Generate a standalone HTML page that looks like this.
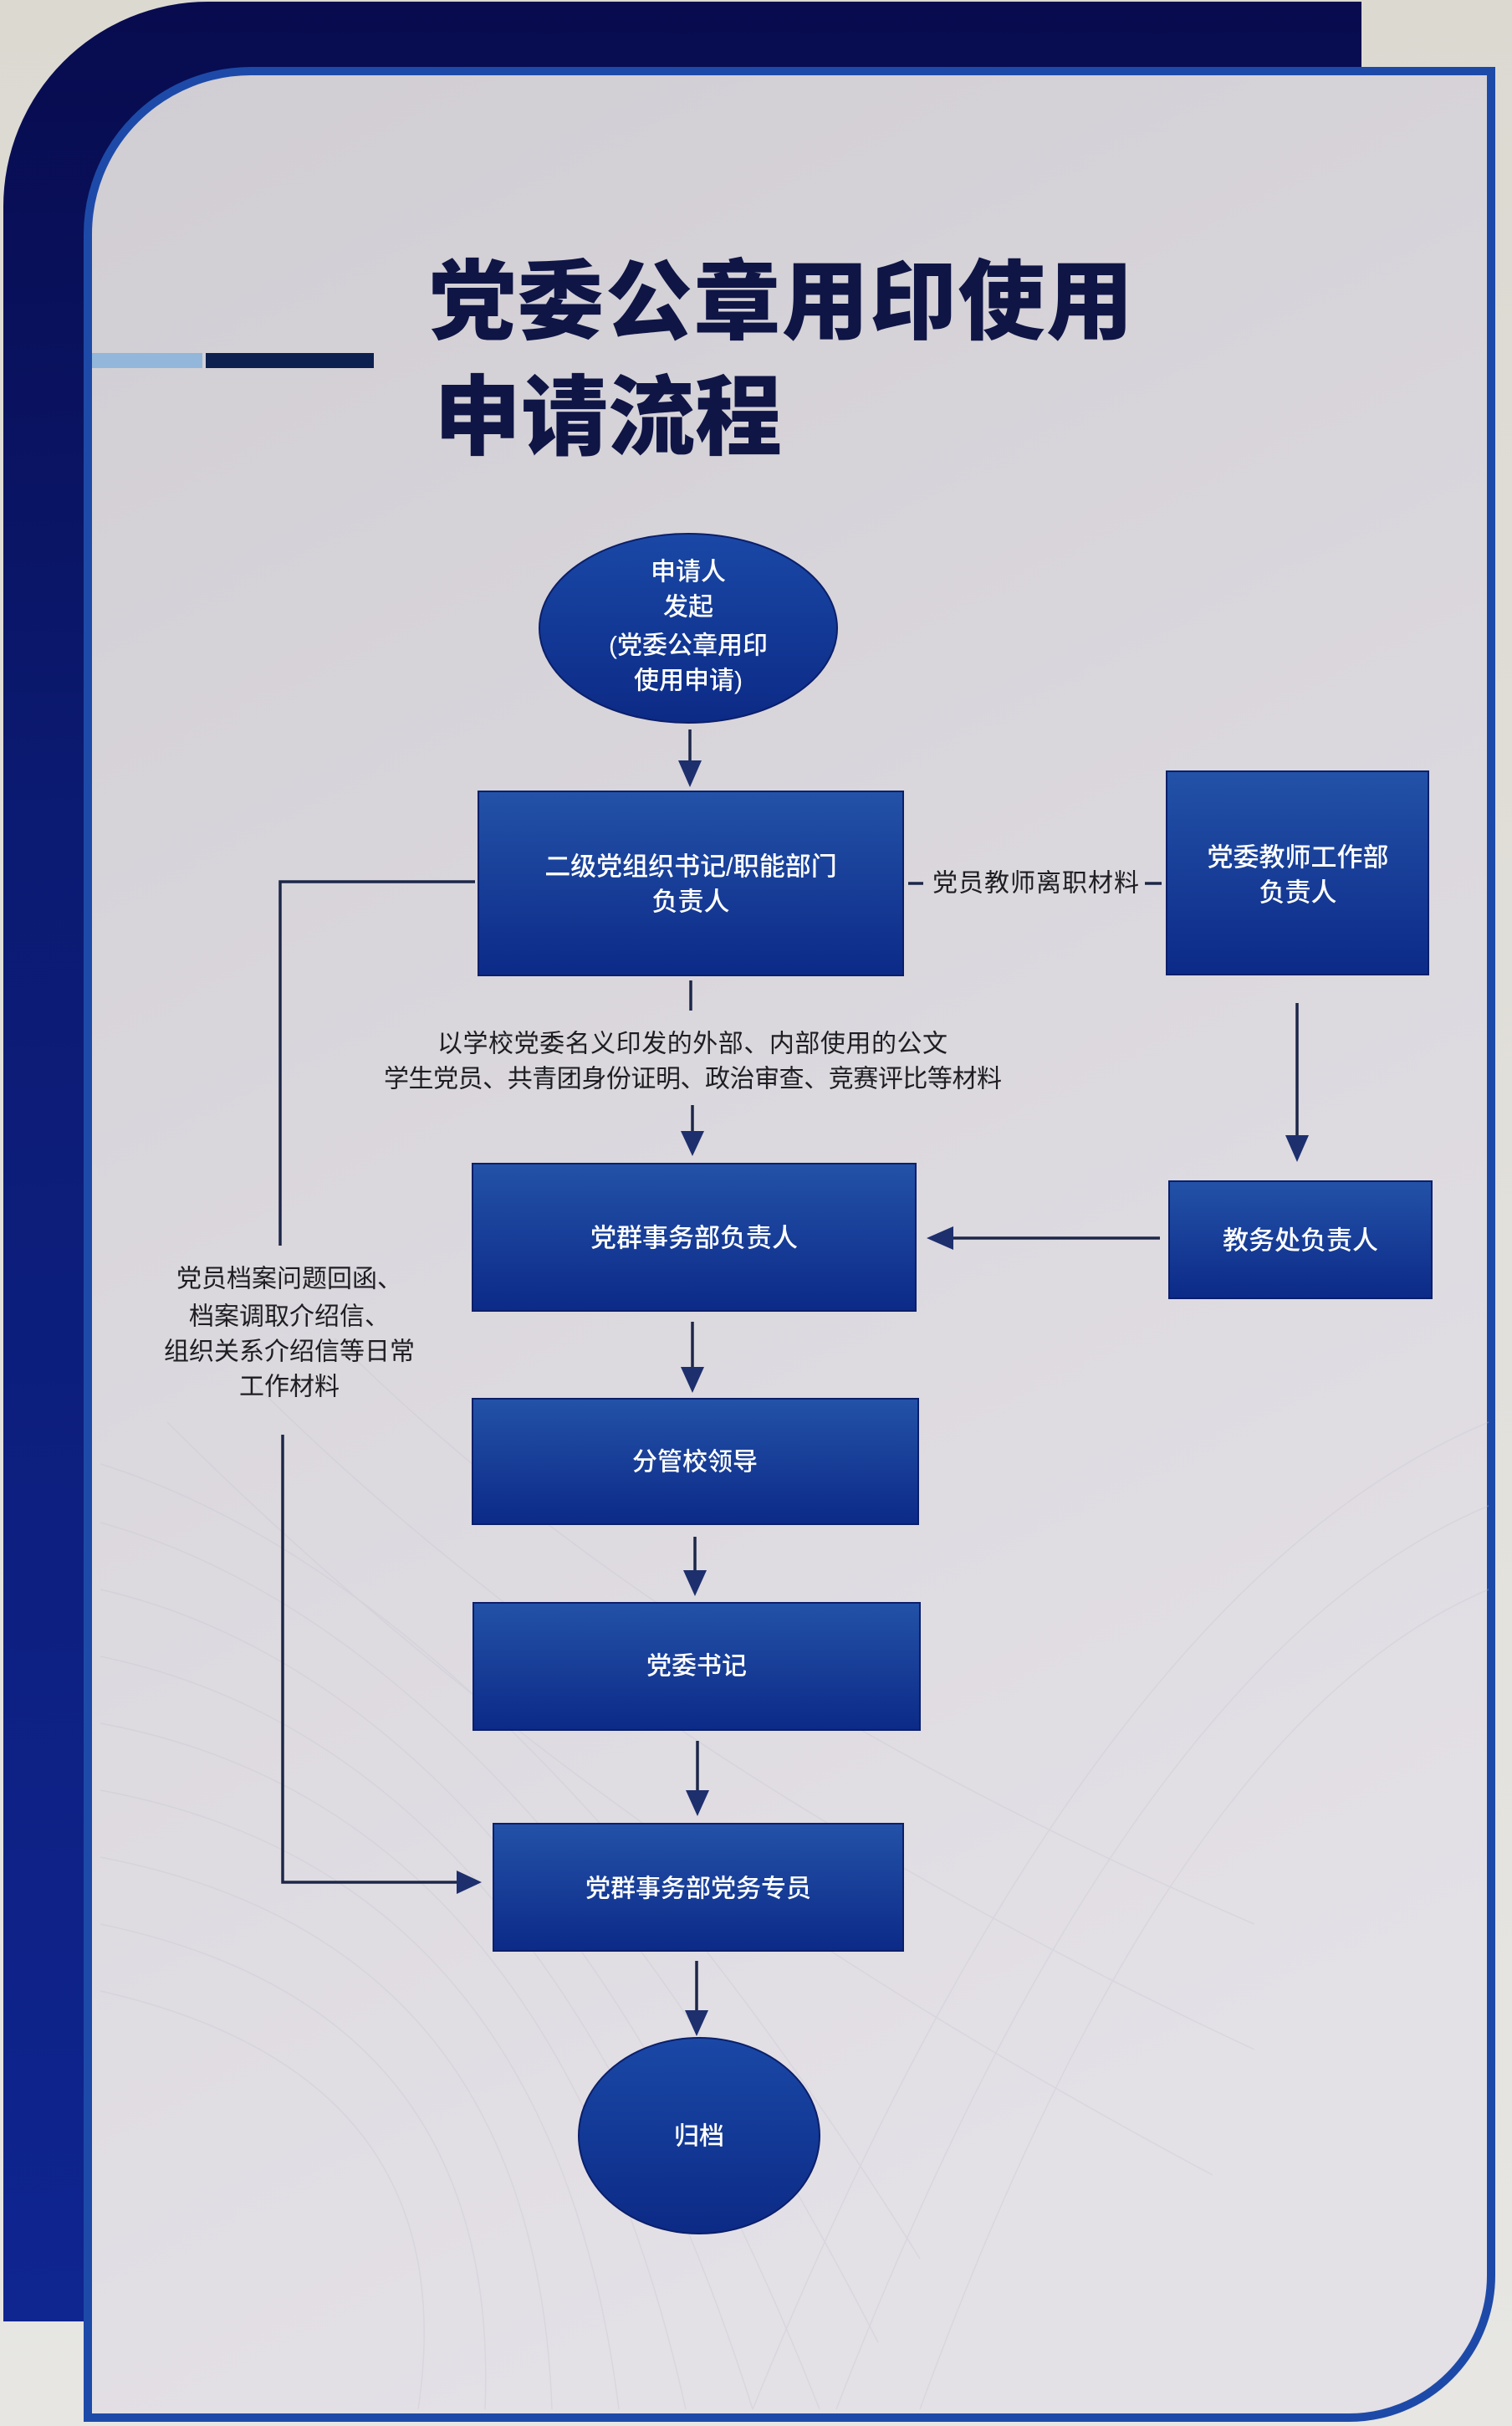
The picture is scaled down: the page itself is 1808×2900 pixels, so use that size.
<!DOCTYPE html>
<html>
<head>
<meta charset="utf-8">
<style>
html,body{margin:0;padding:0;background:#dedbd4;}
svg{display:block;}
text{font-family:"Liberation Sans","Noto Sans CJK SC",sans-serif;}
</style>
</head>
<body>
<svg width="1808" height="2900" viewBox="0 0 1808 2900" xmlns="http://www.w3.org/2000/svg">
<defs>
  <linearGradient id="wall" x1="0" y1="0" x2="0" y2="1">
    <stop offset="0" stop-color="#dcd9d1"/>
    <stop offset="1" stop-color="#e7e6e3"/>
  </linearGradient>
  <linearGradient id="back" x1="0" y1="0" x2="0" y2="1">
    <stop offset="0" stop-color="#080b4e"/>
    <stop offset="0.35" stop-color="#0b1a72"/>
    <stop offset="1" stop-color="#0f2590"/>
  </linearGradient>
  <linearGradient id="panel" x1="0" y1="0" x2="0.3" y2="1">
    <stop offset="0" stop-color="#d0cdd3"/>
    <stop offset="0.5" stop-color="#dad7dd"/>
    <stop offset="1" stop-color="#e3e0e6"/>
  </linearGradient>
  <linearGradient id="box" x1="0" y1="0" x2="0" y2="1">
    <stop offset="0" stop-color="#2352a8"/>
    <stop offset="1" stop-color="#0c2a88"/>
  </linearGradient>
  <linearGradient id="ell" x1="0" y1="0" x2="0" y2="1">
    <stop offset="0" stop-color="#1a48a6"/>
    <stop offset="1" stop-color="#0c2a86"/>
  </linearGradient>
</defs>

<!-- wall -->
<rect x="0" y="0" width="1808" height="2900" fill="url(#wall)"/>

<!-- dark back panel -->
<path d="M4,2775 L4,248 A245,245 0 0 1 249,2 L1628,2 L1628,2775 Z" fill="url(#back)"/>

<!-- front panel -->
<path d="M105,2890 L105,280 A195,195 0 0 1 300,85 L1783,85 L1783,2720 A170,170 0 0 1 1613,2890 Z" fill="url(#panel)" stroke="#1d4aa8" stroke-width="10"/>

<!-- faint background mesh -->
<g fill="none" stroke="#c4c2cf" stroke-width="1.5" opacity="0.3">
  <path d="M120,1750 Q600,1900 1100,2700"/>
  <path d="M120,1820 Q620,1960 1050,2800"/>
  <path d="M120,1900 Q640,2020 980,2880"/>
  <path d="M120,1980 Q650,2090 900,2880"/>
  <path d="M120,2060 Q660,2160 820,2880"/>
  <path d="M120,2140 Q660,2240 740,2880"/>
  <path d="M120,2220 Q640,2320 660,2880"/>
  <path d="M120,2300 Q600,2400 580,2880"/>
  <path d="M120,2380 Q560,2480 500,2880"/>
  <path d="M1780,1700 Q1300,1900 900,2880"/>
  <path d="M1780,1800 Q1350,1980 1000,2880"/>
  <path d="M1780,1900 Q1400,2060 1100,2880"/>
  <path d="M400,1600 Q800,2000 1500,2300"/>
  <path d="M300,1650 Q750,2100 1500,2450"/>
  <path d="M200,1700 Q700,2200 1450,2600"/>
</g>

<!-- title decoration bar -->
<rect x="110" y="422" width="132" height="18" fill="#92b7da"/>
<rect x="246" y="422" width="201" height="18" fill="#0c2150"/>

<!-- title -->
<text x="513" y="362" font-size="104" font-weight="900" fill="#0f1545" dominant-baseline="central" textLength="842" lengthAdjust="spacing">党委公章用印使用</text>
<text x="519" y="500" font-size="104" font-weight="900" fill="#0f1545" dominant-baseline="central" textLength="416" lengthAdjust="spacing">申请流程</text>

<!-- connectors -->
<g stroke="#1c2748" stroke-width="3.5" fill="none">
  <line x1="825" y1="872" x2="825" y2="915"/>
  <line x1="826" y1="1172" x2="826" y2="1208"/>
  <line x1="828" y1="1321" x2="828" y2="1358"/>
  <line x1="828" y1="1580" x2="828" y2="1640"/>
  <line x1="831" y1="1837" x2="831" y2="1882"/>
  <line x1="834" y1="2081" x2="834" y2="2145"/>
  <line x1="833" y1="2344" x2="833" y2="2408"/>
  <line x1="1551" y1="1199" x2="1551" y2="1362"/>
  <line x1="1387" y1="1480" x2="1135" y2="1480"/>
  <line x1="1086" y1="1056" x2="1104" y2="1056"/>
  <line x1="1369" y1="1056" x2="1389" y2="1056"/>
  <polyline points="568,1054 335,1054 335,1489"/>
  <polyline points="338,1715 338,2250 552,2250"/>
</g>

<!-- arrowheads -->
<g fill="#1e2f6e">
  <polygon points="811,909 839,909 825,941"/>
  <polygon points="814,1352 842,1352 828,1382"/>
  <polygon points="814,1634 842,1634 828,1665"/>
  <polygon points="817,1877 845,1877 831,1908"/>
  <polygon points="820,2140 848,2140 834,2171"/>
  <polygon points="819,2403 847,2403 833,2434"/>
  <polygon points="1537,1357 1565,1357 1551,1389"/>
  <polygon points="1140,1466 1140,1494 1108,1480"/>
  <polygon points="546,2236 546,2264 576,2250"/>
</g>

<!-- nodes -->
<g stroke="#0b1f6a" stroke-width="2">
  <ellipse cx="823" cy="751" rx="178" ry="113" fill="url(#ell)"/>
  <rect x="572" y="946" width="508" height="220" fill="url(#box)"/>
  <rect x="1395" y="922" width="313" height="243" fill="url(#box)"/>
  <rect x="565" y="1391" width="530" height="176" fill="url(#box)"/>
  <rect x="1398" y="1412" width="314" height="140" fill="url(#box)"/>
  <rect x="565" y="1672" width="533" height="150" fill="url(#box)"/>
  <rect x="566" y="1916" width="534" height="152" fill="url(#box)"/>
  <rect x="590" y="2180" width="490" height="152" fill="url(#box)"/>
  <ellipse cx="836" cy="2553" rx="144" ry="117" fill="url(#ell)"/>
</g>

<!-- node text -->
<g fill="#ffffff" font-size="30" font-weight="500" text-anchor="middle" dominant-baseline="central">
  <text x="823" y="684">申请人</text>
  <text x="823" y="726">发起</text>
  <text x="823" y="772">(党委公章用印</text>
  <text x="823" y="814">使用申请)</text>
  <text x="826" y="1036" font-size="31">二级党组织书记/职能部门</text>
  <text x="826" y="1078" font-size="31">负责人</text>
  <text x="1552" y="1025" font-size="31">党委教师工作部</text>
  <text x="1552" y="1067" font-size="31">负责人</text>
  <text x="830" y="1480" font-size="31">党群事务部负责人</text>
  <text x="1555" y="1483" font-size="31">教务处负责人</text>
  <text x="831" y="1748">分管校领导</text>
  <text x="833" y="1992">党委书记</text>
  <text x="835" y="2258">党群事务部党务专员</text>
  <text x="836" y="2554">归档</text>
</g>

<!-- connector labels -->
<g fill="#1e1e22" font-size="30" dominant-baseline="central">
  <text x="1115" y="1056" textLength="247" lengthAdjust="spacing">党员教师离职材料</text>
  <text x="523" y="1248" textLength="610" lengthAdjust="spacing">以学校党委名义印发的外部、内部使用的公文</text>
  <text x="459" y="1290" textLength="739" lengthAdjust="spacing">学生党员、共青团身份证明、政治审查、竞赛评比等材料</text>
</g>
<g fill="#1e1e22" font-size="30" text-anchor="middle" dominant-baseline="central">
  <text x="346" y="1529">党员档案问题回函、</text>
  <text x="346" y="1574">档案调取介绍信、</text>
  <text x="346" y="1616">组织关系介绍信等日常</text>
  <text x="346" y="1658">工作材料</text>
</g>
</svg>
</body>
</html>
